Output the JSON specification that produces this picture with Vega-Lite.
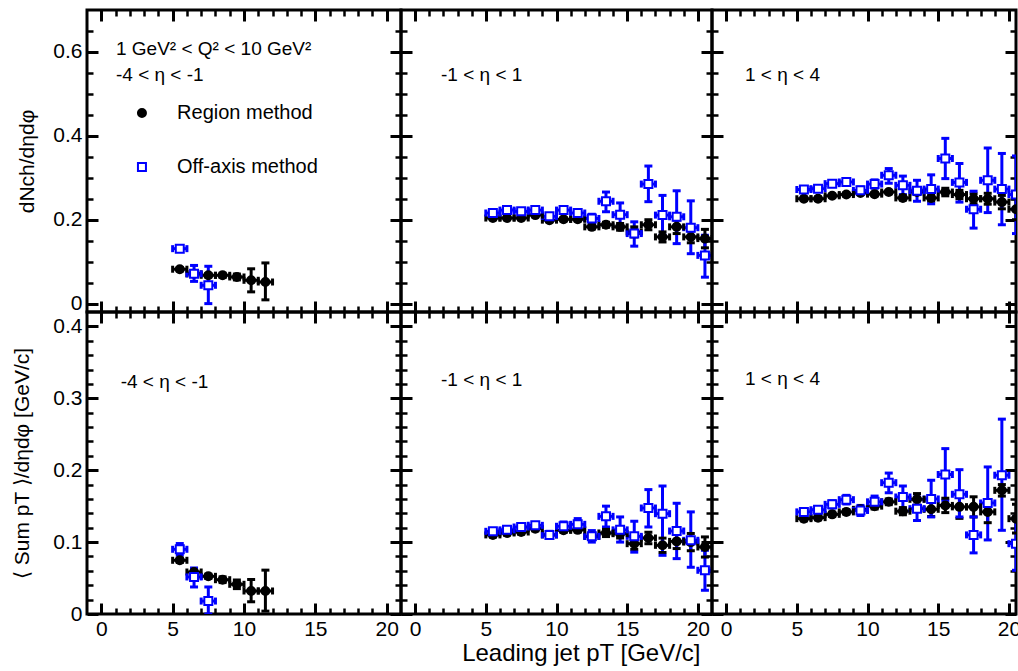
{
"$schema": "https://vega.github.io/schema/vega-lite/v6.json",
"padding": {"left": 10, "top": 7, "right": 0, "bottom": 0},
"background": "white",
"config": {
  "view": {"stroke": "black", "strokeWidth": 3},
  "font": "Liberation Sans",
  "axis": {"domain": false, "grid": false, "tickColor": "black", "labelColor": "black", "titleColor": "black", "labelFont": "Liberation Sans", "titleFont": "Liberation Sans", "labelFontSize": 21, "titleFontWeight": "normal", "labelFlush": false, "labelOverlap": false},
  "text": {"font": "Liberation Sans", "fontSize": 19, "color": "black", "align": "left", "baseline": "middle"}
},
"concat": [
{
"width": 314, "height": 302,
"data": {"name": "tl"},
"resolve": {"axis": {"x": "independent", "y": "independent"}},
"layer": [
 {"mark": {"type": "rule", "strokeWidth": 3, "clip": true},
  "encoding": {
   "x": {"field": "xl", "type": "quantitative", "scale": {"domain": [-1, 21], "nice": false, "zero": false}, "axis": {"orient": "bottom", "values": [0,5,10,15,20], "tickSize": -11, "tickWidth": 3, "labels": false, "title": null}},
   "x2": {"field": "xh"},
   "y": {"field": "y", "type": "quantitative", "scale": {"domain": [-0.02, 0.7], "nice": false, "zero": false}, "axis": {"orient": "left", "values": [0,0.2,0.4,0.6], "tickSize": -11, "tickWidth": 3, "labels": false, "title": null}},
   "stroke": {"field": "m", "type": "nominal", "scale": {"domain": ["Region method", "Off-axis method"], "range": ["#000000", "#0000ff"]}, "legend": null}}},
 {"mark": {"type": "rule", "strokeWidth": 3, "clip": true},
  "encoding": {
   "x": {"field": "x", "type": "quantitative", "axis": {"orient": "top", "values": [0,5,10,15,20], "tickSize": -11, "tickWidth": 3, "labels": false, "title": null}},
   "y": {"field": "yl", "type": "quantitative", "axis": {"orient": "right", "values": [0,0.2,0.4,0.6], "tickSize": -11, "tickWidth": 3, "labels": false, "title": null}},
   "y2": {"field": "yh"},
   "stroke": {"field": "m", "type": "nominal", "legend": null}}},
 {"mark": {"type": "tick", "orient": "horizontal", "size": 8, "thickness": 3, "opacity": 1, "clip": true},
  "encoding": {
   "x": {"field": "x", "type": "quantitative", "axis": {"orient": "bottom", "values": [1,2,3,4,6,7,8,9,11,12,13,14,16,17,18,19], "tickSize": -6, "tickWidth": 2.5, "labels": false, "title": null}},
   "y": {"field": "yl", "type": "quantitative", "axis": {"orient": "left", "values": [0.05,0.1,0.15,0.25,0.3,0.35,0.45,0.5,0.55,0.65], "tickSize": -6, "tickWidth": 2.5, "labels": false, "title": null}},
   "color": {"field": "m", "type": "nominal", "scale": {"domain": ["Region method", "Off-axis method"], "range": ["#000000", "#0000ff"]}, "legend": null}}},
 {"mark": {"type": "tick", "orient": "horizontal", "size": 8, "thickness": 3, "opacity": 1, "clip": true},
  "encoding": {
   "x": {"field": "x", "type": "quantitative", "axis": {"orient": "top", "values": [1,2,3,4,6,7,8,9,11,12,13,14,16,17,18,19], "tickSize": -6, "tickWidth": 2.5, "labels": false, "title": null}},
   "y": {"field": "yh", "type": "quantitative", "axis": {"orient": "right", "values": [0.05,0.1,0.15,0.25,0.3,0.35,0.45,0.5,0.55,0.65], "tickSize": -6, "tickWidth": 2.5, "labels": false, "title": null}},
   "color": {"field": "m", "type": "nominal", "legend": null}}},
 {"mark": {"type": "tick", "orient": "vertical", "size": 7, "thickness": 3, "opacity": 1, "clip": true},
  "encoding": {
   "x": {"field": "xl", "type": "quantitative", "axis": null},
   "y": {"field": "y", "type": "quantitative", "axis": {"orient": "left", "values": [0,0.2,0.4,0.6], "format": "~g", "ticks": false, "labelPadding": 5, "title": "dNch/dηdφ", "titleX": -60, "titleY": 151, "titleAngle": 270, "titleAlign": "center", "titleBaseline": "middle", "titleFontSize": 21}},
   "color": {"field": "m", "type": "nominal", "legend": null}}},
 {"mark": {"type": "tick", "orient": "vertical", "size": 7, "thickness": 3, "opacity": 1, "clip": true},
  "encoding": {
   "x": {"field": "xh", "type": "quantitative", "axis": null},
   "y": {"field": "y", "type": "quantitative", "axis": null},
   "color": {"field": "m", "type": "nominal", "legend": null}}},
 {"mark": {"type": "point", "size": 64, "strokeWidth": 2, "opacity": 1, "clip": true},
  "encoding": {
   "x": {"field": "x", "type": "quantitative", "axis": null},
   "y": {"field": "y", "type": "quantitative", "axis": null},
   "stroke": {"field": "m", "type": "nominal", "legend": null},
   "fill": {"field": "m", "type": "nominal", "scale": {"domain": ["Region method", "Off-axis method"], "range": ["#000000", "#ffffff"]}, "legend": null},
   "shape": {"field": "m", "type": "nominal", "scale": {"domain": ["Region method", "Off-axis method"], "range": ["circle", "square"]}, "legend": null}}},
 {"data": {"values": [{"m": "Region method"}]}, "mark": {"type": "point", "size": 64, "strokeWidth": 2, "opacity": 1},
  "encoding": {"x": {"datum": 2.85, "axis": null}, "y": {"datum": 0.4544, "axis": null},
   "stroke": {"field": "m", "type": "nominal", "legend": null}, "fill": {"field": "m", "type": "nominal", "legend": null}, "shape": {"field": "m", "type": "nominal", "legend": null}}},
 {"data": {"values": [{"m": "Off-axis method"}]}, "mark": {"type": "point", "size": 64, "strokeWidth": 2, "opacity": 1},
  "encoding": {"x": {"datum": 2.85, "axis": null}, "y": {"datum": 0.3257, "axis": null},
   "stroke": {"field": "m", "type": "nominal", "legend": null}, "fill": {"field": "m", "type": "nominal", "legend": null}, "shape": {"field": "m", "type": "nominal", "legend": null}}},
 {"data": {"values": [{"m": "Region method"}]}, "mark": {"type": "text", "fontSize": 20},
  "encoding": {"text": {"field": "m"}, "x": {"datum": 5.31, "axis": null}, "y": {"datum": 0.4544, "axis": null}}},
 {"data": {"values": [{"m": "Off-axis method"}]}, "mark": {"type": "text", "fontSize": 20},
  "encoding": {"text": {"field": "m"}, "x": {"datum": 5.31, "axis": null}, "y": {"datum": 0.3257, "axis": null}}},
 {"data": {"values": [{"t": "1 GeV² < Q² < 10 GeV²"}]}, "mark": {"type": "text"},
  "encoding": {"text": {"field": "t"}, "x": {"datum": 1.03, "axis": null}, "y": {"datum": 0.608, "axis": null}}},
 {"data": {"values": [{"t": "-4 < η < -1"}]}, "mark": {"type": "text"},
  "encoding": {"text": {"field": "t"}, "x": {"datum": 1.03, "axis": null}, "y": {"datum": 0.545, "axis": null}}}
]},
{
"width": 311, "height": 302,
"data": {"name": "tm"},
"resolve": {"axis": {"x": "independent", "y": "independent"}},
"layer": [
 {"mark": {"type": "rule", "strokeWidth": 3, "clip": true},
  "encoding": {
   "x": {"field": "xl", "type": "quantitative", "scale": {"domain": [-1, 21], "nice": false, "zero": false}, "axis": {"orient": "bottom", "values": [0,5,10,15,20], "tickSize": -11, "tickWidth": 3, "labels": false, "title": null}},
   "x2": {"field": "xh"},
   "y": {"field": "y", "type": "quantitative", "scale": {"domain": [-0.02, 0.7], "nice": false, "zero": false}, "axis": {"orient": "left", "values": [0,0.2,0.4,0.6], "tickSize": -11, "tickWidth": 3, "labels": false, "title": null}},
   "stroke": {"field": "m", "type": "nominal", "legend": null}}},
 {"mark": {"type": "rule", "strokeWidth": 3, "clip": true},
  "encoding": {
   "x": {"field": "x", "type": "quantitative", "axis": {"orient": "top", "values": [0,5,10,15,20], "tickSize": -11, "tickWidth": 3, "labels": false, "title": null}},
   "y": {"field": "yl", "type": "quantitative", "axis": {"orient": "right", "values": [0,0.2,0.4,0.6], "tickSize": -11, "tickWidth": 3, "labels": false, "title": null}},
   "y2": {"field": "yh"},
   "stroke": {"field": "m", "type": "nominal", "legend": null}}},
 {"mark": {"type": "tick", "orient": "horizontal", "size": 8, "thickness": 3, "opacity": 1, "clip": true},
  "encoding": {
   "x": {"field": "x", "type": "quantitative", "axis": {"orient": "bottom", "values": [1,2,3,4,6,7,8,9,11,12,13,14,16,17,18,19], "tickSize": -6, "tickWidth": 2.5, "labels": false, "title": null}},
   "y": {"field": "yl", "type": "quantitative", "axis": {"orient": "left", "values": [0.05,0.1,0.15,0.25,0.3,0.35,0.45,0.5,0.55,0.65], "tickSize": -6, "tickWidth": 2.5, "labels": false, "title": null}},
   "color": {"field": "m", "type": "nominal", "legend": null}}},
 {"mark": {"type": "tick", "orient": "horizontal", "size": 8, "thickness": 3, "opacity": 1, "clip": true},
  "encoding": {
   "x": {"field": "x", "type": "quantitative", "axis": {"orient": "top", "values": [1,2,3,4,6,7,8,9,11,12,13,14,16,17,18,19], "tickSize": -6, "tickWidth": 2.5, "labels": false, "title": null}},
   "y": {"field": "yh", "type": "quantitative", "axis": {"orient": "right", "values": [0.05,0.1,0.15,0.25,0.3,0.35,0.45,0.5,0.55,0.65], "tickSize": -6, "tickWidth": 2.5, "labels": false, "title": null}},
   "color": {"field": "m", "type": "nominal", "legend": null}}},
 {"mark": {"type": "tick", "orient": "vertical", "size": 7, "thickness": 3, "opacity": 1, "clip": true},
  "encoding": {
   "x": {"field": "xl", "type": "quantitative", "axis": null},
   "y": {"field": "y", "type": "quantitative", "axis": null},
   "color": {"field": "m", "type": "nominal", "legend": null}}},
 {"mark": {"type": "tick", "orient": "vertical", "size": 7, "thickness": 3, "opacity": 1, "clip": true},
  "encoding": {
   "x": {"field": "xh", "type": "quantitative", "axis": null},
   "y": {"field": "y", "type": "quantitative", "axis": null},
   "color": {"field": "m", "type": "nominal", "legend": null}}},
 {"mark": {"type": "point", "size": 64, "strokeWidth": 2, "opacity": 1, "clip": true},
  "encoding": {
   "x": {"field": "x", "type": "quantitative", "axis": null},
   "y": {"field": "y", "type": "quantitative", "axis": null},
   "stroke": {"field": "m", "type": "nominal", "legend": null},
   "fill": {"field": "m", "type": "nominal", "legend": null},
   "shape": {"field": "m", "type": "nominal", "legend": null}}},
 {"data": {"values": [{"t": "-1 < η < 1"}]}, "mark": {"type": "text"},
  "encoding": {"text": {"field": "t"}, "x": {"datum": 1.83, "axis": null}, "y": {"datum": 0.545, "axis": null}}}
]},
{
"width": 304, "height": 302,
"data": {"name": "tr"},
"resolve": {"axis": {"x": "independent", "y": "independent"}},
"layer": [
 {"mark": {"type": "rule", "strokeWidth": 3, "clip": true},
  "encoding": {
   "x": {"field": "xl", "type": "quantitative", "scale": {"domain": [-1, 20.5], "nice": false, "zero": false}, "axis": {"orient": "bottom", "values": [0,5,10,15,20], "tickSize": -11, "tickWidth": 3, "labels": false, "title": null}},
   "x2": {"field": "xh"},
   "y": {"field": "y", "type": "quantitative", "scale": {"domain": [-0.02, 0.7], "nice": false, "zero": false}, "axis": {"orient": "left", "values": [0,0.2,0.4,0.6], "tickSize": -11, "tickWidth": 3, "labels": false, "title": null}},
   "stroke": {"field": "m", "type": "nominal", "legend": null}}},
 {"mark": {"type": "rule", "strokeWidth": 3, "clip": true},
  "encoding": {
   "x": {"field": "x", "type": "quantitative", "axis": {"orient": "top", "values": [0,5,10,15,20], "tickSize": -11, "tickWidth": 3, "labels": false, "title": null}},
   "y": {"field": "yl", "type": "quantitative", "axis": {"orient": "right", "values": [0,0.2,0.4,0.6], "tickSize": -11, "tickWidth": 3, "labels": false, "title": null}},
   "y2": {"field": "yh"},
   "stroke": {"field": "m", "type": "nominal", "legend": null}}},
 {"mark": {"type": "tick", "orient": "horizontal", "size": 8, "thickness": 3, "opacity": 1, "clip": true},
  "encoding": {
   "x": {"field": "x", "type": "quantitative", "axis": {"orient": "bottom", "values": [1,2,3,4,6,7,8,9,11,12,13,14,16,17,18,19], "tickSize": -6, "tickWidth": 2.5, "labels": false, "title": null}},
   "y": {"field": "yl", "type": "quantitative", "axis": {"orient": "left", "values": [0.05,0.1,0.15,0.25,0.3,0.35,0.45,0.5,0.55,0.65], "tickSize": -6, "tickWidth": 2.5, "labels": false, "title": null}},
   "color": {"field": "m", "type": "nominal", "legend": null}}},
 {"mark": {"type": "tick", "orient": "horizontal", "size": 8, "thickness": 3, "opacity": 1, "clip": true},
  "encoding": {
   "x": {"field": "x", "type": "quantitative", "axis": {"orient": "top", "values": [1,2,3,4,6,7,8,9,11,12,13,14,16,17,18,19], "tickSize": -6, "tickWidth": 2.5, "labels": false, "title": null}},
   "y": {"field": "yh", "type": "quantitative", "axis": {"orient": "right", "values": [0.05,0.1,0.15,0.25,0.3,0.35,0.45,0.5,0.55,0.65], "tickSize": -6, "tickWidth": 2.5, "labels": false, "title": null}},
   "color": {"field": "m", "type": "nominal", "legend": null}}},
 {"mark": {"type": "tick", "orient": "vertical", "size": 7, "thickness": 3, "opacity": 1, "clip": true},
  "encoding": {
   "x": {"field": "xl", "type": "quantitative", "axis": null},
   "y": {"field": "y", "type": "quantitative", "axis": null},
   "color": {"field": "m", "type": "nominal", "legend": null}}},
 {"mark": {"type": "tick", "orient": "vertical", "size": 7, "thickness": 3, "opacity": 1, "clip": true},
  "encoding": {
   "x": {"field": "xh", "type": "quantitative", "axis": null},
   "y": {"field": "y", "type": "quantitative", "axis": null},
   "color": {"field": "m", "type": "nominal", "legend": null}}},
 {"mark": {"type": "point", "size": 64, "strokeWidth": 2, "opacity": 1, "clip": true},
  "encoding": {
   "x": {"field": "x", "type": "quantitative", "axis": null},
   "y": {"field": "y", "type": "quantitative", "axis": null},
   "stroke": {"field": "m", "type": "nominal", "legend": null},
   "fill": {"field": "m", "type": "nominal", "legend": null},
   "shape": {"field": "m", "type": "nominal", "legend": null}}},
 {"data": {"values": [{"t": "1 < η < 4"}]}, "mark": {"type": "text"},
  "encoding": {"text": {"field": "t"}, "x": {"datum": 1.33, "axis": null}, "y": {"datum": 0.546, "axis": null}}}
]},
{
"width": 314, "height": 302,
"data": {"name": "bl"},
"resolve": {"axis": {"x": "independent", "y": "independent"}},
"layer": [
 {"mark": {"type": "rule", "strokeWidth": 3, "clip": true},
  "encoding": {
   "x": {"field": "xl", "type": "quantitative", "scale": {"domain": [-1, 21], "nice": false, "zero": false}, "axis": {"orient": "bottom", "values": [0,5,10,15,20], "tickSize": -11, "tickWidth": 3, "labels": false, "title": null}},
   "x2": {"field": "xh"},
   "y": {"field": "y", "type": "quantitative", "scale": {"domain": [0, 0.42], "nice": false, "zero": false}, "axis": {"orient": "left", "values": [0,0.1,0.2,0.3,0.4], "tickSize": -11, "tickWidth": 3, "labels": false, "title": null}},
   "stroke": {"field": "m", "type": "nominal", "legend": null}}},
 {"mark": {"type": "rule", "strokeWidth": 3, "clip": true},
  "encoding": {
   "x": {"field": "x", "type": "quantitative", "axis": {"orient": "top", "values": [0,5,10,15,20], "tickSize": -11, "tickWidth": 3, "labels": false, "title": null}},
   "y": {"field": "yl", "type": "quantitative", "axis": {"orient": "right", "values": [0,0.1,0.2,0.3,0.4], "tickSize": -11, "tickWidth": 3, "labels": false, "title": null}},
   "y2": {"field": "yh"},
   "stroke": {"field": "m", "type": "nominal", "legend": null}}},
 {"mark": {"type": "tick", "orient": "horizontal", "size": 8, "thickness": 3, "opacity": 1, "clip": true},
  "encoding": {
   "x": {"field": "x", "type": "quantitative", "axis": {"orient": "bottom", "values": [1,2,3,4,6,7,8,9,11,12,13,14,16,17,18,19], "tickSize": -6, "tickWidth": 2.5, "labels": false, "title": null}},
   "y": {"field": "yl", "type": "quantitative", "axis": {"orient": "left", "values": [0.02,0.04,0.06,0.08,0.12,0.14,0.16,0.18,0.22,0.24,0.26,0.28,0.32,0.34,0.36,0.38], "tickSize": -6, "tickWidth": 2.5, "labels": false, "title": null}},
   "color": {"field": "m", "type": "nominal", "legend": null}}},
 {"mark": {"type": "tick", "orient": "horizontal", "size": 8, "thickness": 3, "opacity": 1, "clip": true},
  "encoding": {
   "x": {"field": "x", "type": "quantitative", "axis": {"orient": "top", "values": [1,2,3,4,6,7,8,9,11,12,13,14,16,17,18,19], "tickSize": -6, "tickWidth": 2.5, "labels": false, "title": null}},
   "y": {"field": "yh", "type": "quantitative", "axis": {"orient": "right", "values": [0.02,0.04,0.06,0.08,0.12,0.14,0.16,0.18,0.22,0.24,0.26,0.28,0.32,0.34,0.36,0.38], "tickSize": -6, "tickWidth": 2.5, "labels": false, "title": null}},
   "color": {"field": "m", "type": "nominal", "legend": null}}},
 {"mark": {"type": "tick", "orient": "vertical", "size": 7, "thickness": 3, "opacity": 1, "clip": true},
  "encoding": {
   "x": {"field": "xl", "type": "quantitative", "axis": {"orient": "bottom", "values": [0,5,10,15,20], "ticks": false, "labelPadding": 4, "title": null}},
   "y": {"field": "y", "type": "quantitative", "axis": {"orient": "left", "values": [0,0.1,0.2,0.3,0.4], "format": "~g", "ticks": false, "labelPadding": 5, "title": "⟨ Sum pT ⟩/dηdφ [GeV/c]", "titleX": -64.5, "titleY": 151, "titleAngle": 270, "titleAlign": "center", "titleBaseline": "middle", "titleFontSize": 21}},
   "color": {"field": "m", "type": "nominal", "legend": null}}},
 {"mark": {"type": "tick", "orient": "vertical", "size": 7, "thickness": 3, "opacity": 1, "clip": true},
  "encoding": {
   "x": {"field": "xh", "type": "quantitative", "axis": null},
   "y": {"field": "y", "type": "quantitative", "axis": null},
   "color": {"field": "m", "type": "nominal", "legend": null}}},
 {"mark": {"type": "point", "size": 64, "strokeWidth": 2, "opacity": 1, "clip": true},
  "encoding": {
   "x": {"field": "x", "type": "quantitative", "axis": null},
   "y": {"field": "y", "type": "quantitative", "axis": null},
   "stroke": {"field": "m", "type": "nominal", "legend": null},
   "fill": {"field": "m", "type": "nominal", "legend": null},
   "shape": {"field": "m", "type": "nominal", "legend": null}}},
 {"data": {"values": [{"t": "-4 < η < -1"}]}, "mark": {"type": "text"},
  "encoding": {"text": {"field": "t"}, "x": {"datum": 1.36, "axis": null}, "y": {"datum": 0.3227, "axis": null}}}
]},
{
"width": 311, "height": 302,
"data": {"name": "bm"},
"resolve": {"axis": {"x": "independent", "y": "independent"}},
"layer": [
 {"mark": {"type": "rule", "strokeWidth": 3, "clip": true},
  "encoding": {
   "x": {"field": "xl", "type": "quantitative", "scale": {"domain": [-1, 21], "nice": false, "zero": false}, "axis": {"orient": "bottom", "values": [0,5,10,15,20], "tickSize": -11, "tickWidth": 3, "labels": false, "title": null}},
   "x2": {"field": "xh"},
   "y": {"field": "y", "type": "quantitative", "scale": {"domain": [0, 0.42], "nice": false, "zero": false}, "axis": {"orient": "left", "values": [0,0.1,0.2,0.3,0.4], "tickSize": -11, "tickWidth": 3, "labels": false, "title": null}},
   "stroke": {"field": "m", "type": "nominal", "legend": null}}},
 {"mark": {"type": "rule", "strokeWidth": 3, "clip": true},
  "encoding": {
   "x": {"field": "x", "type": "quantitative", "axis": {"orient": "top", "values": [0,5,10,15,20], "tickSize": -11, "tickWidth": 3, "labels": false, "title": null}},
   "y": {"field": "yl", "type": "quantitative", "axis": {"orient": "right", "values": [0,0.1,0.2,0.3,0.4], "tickSize": -11, "tickWidth": 3, "labels": false, "title": null}},
   "y2": {"field": "yh"},
   "stroke": {"field": "m", "type": "nominal", "legend": null}}},
 {"mark": {"type": "tick", "orient": "horizontal", "size": 8, "thickness": 3, "opacity": 1, "clip": true},
  "encoding": {
   "x": {"field": "x", "type": "quantitative", "axis": {"orient": "bottom", "values": [1,2,3,4,6,7,8,9,11,12,13,14,16,17,18,19], "tickSize": -6, "tickWidth": 2.5, "labels": false, "title": null}},
   "y": {"field": "yl", "type": "quantitative", "axis": {"orient": "left", "values": [0.02,0.04,0.06,0.08,0.12,0.14,0.16,0.18,0.22,0.24,0.26,0.28,0.32,0.34,0.36,0.38], "tickSize": -6, "tickWidth": 2.5, "labels": false, "title": null}},
   "color": {"field": "m", "type": "nominal", "legend": null}}},
 {"mark": {"type": "tick", "orient": "horizontal", "size": 8, "thickness": 3, "opacity": 1, "clip": true},
  "encoding": {
   "x": {"field": "x", "type": "quantitative", "axis": {"orient": "top", "values": [1,2,3,4,6,7,8,9,11,12,13,14,16,17,18,19], "tickSize": -6, "tickWidth": 2.5, "labels": false, "title": null}},
   "y": {"field": "yh", "type": "quantitative", "axis": {"orient": "right", "values": [0.02,0.04,0.06,0.08,0.12,0.14,0.16,0.18,0.22,0.24,0.26,0.28,0.32,0.34,0.36,0.38], "tickSize": -6, "tickWidth": 2.5, "labels": false, "title": null}},
   "color": {"field": "m", "type": "nominal", "legend": null}}},
 {"mark": {"type": "tick", "orient": "vertical", "size": 7, "thickness": 3, "opacity": 1, "clip": true},
  "encoding": {
   "x": {"field": "xl", "type": "quantitative", "axis": {"orient": "bottom", "values": [0,5,10,15,20], "ticks": false, "labelPadding": 4, "title": "Leading jet pT [GeV/c]", "titleFontSize": 24, "titleX": 299, "titleY": 46, "titleAlign": "right", "titleBaseline": "alphabetic"}},
   "y": {"field": "y", "type": "quantitative", "axis": null},
   "color": {"field": "m", "type": "nominal", "legend": null}}},
 {"mark": {"type": "tick", "orient": "vertical", "size": 7, "thickness": 3, "opacity": 1, "clip": true},
  "encoding": {
   "x": {"field": "xh", "type": "quantitative", "axis": null},
   "y": {"field": "y", "type": "quantitative", "axis": null},
   "color": {"field": "m", "type": "nominal", "legend": null}}},
 {"mark": {"type": "point", "size": 64, "strokeWidth": 2, "opacity": 1, "clip": true},
  "encoding": {
   "x": {"field": "x", "type": "quantitative", "axis": null},
   "y": {"field": "y", "type": "quantitative", "axis": null},
   "stroke": {"field": "m", "type": "nominal", "legend": null},
   "fill": {"field": "m", "type": "nominal", "legend": null},
   "shape": {"field": "m", "type": "nominal", "legend": null}}},
 {"data": {"values": [{"t": "-1 < η < 1"}]}, "mark": {"type": "text"},
  "encoding": {"text": {"field": "t"}, "x": {"datum": 1.83, "axis": null}, "y": {"datum": 0.326, "axis": null}}}
]},
{
"width": 304, "height": 302,
"data": {"name": "br"},
"resolve": {"axis": {"x": "independent", "y": "independent"}},
"layer": [
 {"mark": {"type": "rule", "strokeWidth": 3, "clip": true},
  "encoding": {
   "x": {"field": "xl", "type": "quantitative", "scale": {"domain": [-1, 20.5], "nice": false, "zero": false}, "axis": {"orient": "bottom", "values": [0,5,10,15,20], "tickSize": -11, "tickWidth": 3, "labels": false, "title": null}},
   "x2": {"field": "xh"},
   "y": {"field": "y", "type": "quantitative", "scale": {"domain": [0, 0.42], "nice": false, "zero": false}, "axis": {"orient": "left", "values": [0,0.1,0.2,0.3,0.4], "tickSize": -11, "tickWidth": 3, "labels": false, "title": null}},
   "stroke": {"field": "m", "type": "nominal", "legend": null}}},
 {"mark": {"type": "rule", "strokeWidth": 3, "clip": true},
  "encoding": {
   "x": {"field": "x", "type": "quantitative", "axis": {"orient": "top", "values": [0,5,10,15,20], "tickSize": -11, "tickWidth": 3, "labels": false, "title": null}},
   "y": {"field": "yl", "type": "quantitative", "axis": {"orient": "right", "values": [0,0.1,0.2,0.3,0.4], "tickSize": -11, "tickWidth": 3, "labels": false, "title": null}},
   "y2": {"field": "yh"},
   "stroke": {"field": "m", "type": "nominal", "legend": null}}},
 {"mark": {"type": "tick", "orient": "horizontal", "size": 8, "thickness": 3, "opacity": 1, "clip": true},
  "encoding": {
   "x": {"field": "x", "type": "quantitative", "axis": {"orient": "bottom", "values": [1,2,3,4,6,7,8,9,11,12,13,14,16,17,18,19], "tickSize": -6, "tickWidth": 2.5, "labels": false, "title": null}},
   "y": {"field": "yl", "type": "quantitative", "axis": {"orient": "left", "values": [0.02,0.04,0.06,0.08,0.12,0.14,0.16,0.18,0.22,0.24,0.26,0.28,0.32,0.34,0.36,0.38], "tickSize": -6, "tickWidth": 2.5, "labels": false, "title": null}},
   "color": {"field": "m", "type": "nominal", "legend": null}}},
 {"mark": {"type": "tick", "orient": "horizontal", "size": 8, "thickness": 3, "opacity": 1, "clip": true},
  "encoding": {
   "x": {"field": "x", "type": "quantitative", "axis": {"orient": "top", "values": [1,2,3,4,6,7,8,9,11,12,13,14,16,17,18,19], "tickSize": -6, "tickWidth": 2.5, "labels": false, "title": null}},
   "y": {"field": "yh", "type": "quantitative", "axis": {"orient": "right", "values": [0.02,0.04,0.06,0.08,0.12,0.14,0.16,0.18,0.22,0.24,0.26,0.28,0.32,0.34,0.36,0.38], "tickSize": -6, "tickWidth": 2.5, "labels": false, "title": null}},
   "color": {"field": "m", "type": "nominal", "legend": null}}},
 {"mark": {"type": "tick", "orient": "vertical", "size": 7, "thickness": 3, "opacity": 1, "clip": true},
  "encoding": {
   "x": {"field": "xl", "type": "quantitative", "axis": {"orient": "bottom", "values": [0,5,10,15,20], "ticks": false, "labelPadding": 4, "title": null}},
   "y": {"field": "y", "type": "quantitative", "axis": null},
   "color": {"field": "m", "type": "nominal", "legend": null}}},
 {"mark": {"type": "tick", "orient": "vertical", "size": 7, "thickness": 3, "opacity": 1, "clip": true},
  "encoding": {
   "x": {"field": "xh", "type": "quantitative", "axis": null},
   "y": {"field": "y", "type": "quantitative", "axis": null},
   "color": {"field": "m", "type": "nominal", "legend": null}}},
 {"mark": {"type": "point", "size": 64, "strokeWidth": 2, "opacity": 1, "clip": true},
  "encoding": {
   "x": {"field": "x", "type": "quantitative", "axis": null},
   "y": {"field": "y", "type": "quantitative", "axis": null},
   "stroke": {"field": "m", "type": "nominal", "legend": null},
   "fill": {"field": "m", "type": "nominal", "legend": null},
   "shape": {"field": "m", "type": "nominal", "legend": null}}},
 {"data": {"values": [{"t": "1 < η < 4"}]}, "mark": {"type": "text"},
  "encoding": {"text": {"field": "t"}, "x": {"datum": 1.33, "axis": null}, "y": {"datum": 0.327, "axis": null}}}
]}
],
"columns": 3,
"spacing": 0,
"bounds": "flush",
"align": "each",
"datasets": {
"tl": [
{"m":"Region method","x":5.5,"xl":5,"xh":6,"y":0.082,"yl":0.078,"yh":0.086},
{"m":"Region method","x":6.5,"xl":6,"xh":7,"y":0.071,"yl":0.067,"yh":0.075},
{"m":"Region method","x":7.5,"xl":7,"xh":8,"y":0.0675,"yl":0.0635,"yh":0.0715},
{"m":"Region method","x":8.5,"xl":8,"xh":9,"y":0.0675,"yl":0.0625,"yh":0.0725},
{"m":"Region method","x":9.5,"xl":9,"xh":10,"y":0.0635,"yl":0.0565,"yh":0.0705},
{"m":"Region method","x":10.5,"xl":10,"xh":11,"y":0.0556,"yl":0.028,"yh":0.083},
{"m":"Region method","x":11.5,"xl":11,"xh":12,"y":0.0515,"yl":0.009,"yh":0.097},
{"m":"Off-axis method","x":5.5,"xl":5,"xh":6,"y":0.131,"yl":0.125,"yh":0.137},
{"m":"Off-axis method","x":6.5,"xl":6,"xh":7,"y":0.071,"yl":0.053,"yh":0.091},
{"m":"Off-axis method","x":7.5,"xl":7,"xh":8,"y":0.0437,"yl":0.0,"yh":0.089}
],
"tm": [
{"m":"Region method","x":5.5,"xl":5,"xh":6,"y":0.204,"yl":0.2,"yh":0.208},
{"m":"Region method","x":6.5,"xl":6,"xh":7,"y":0.204,"yl":0.2,"yh":0.208},
{"m":"Region method","x":7.5,"xl":7,"xh":8,"y":0.204,"yl":0.2,"yh":0.208},
{"m":"Region method","x":8.5,"xl":8,"xh":9,"y":0.211,"yl":0.207,"yh":0.215},
{"m":"Region method","x":9.5,"xl":9,"xh":10,"y":0.199,"yl":0.195,"yh":0.203},
{"m":"Region method","x":10.5,"xl":10,"xh":11,"y":0.201,"yl":0.197,"yh":0.205},
{"m":"Region method","x":11.5,"xl":11,"xh":12,"y":0.201,"yl":0.197,"yh":0.205},
{"m":"Region method","x":12.5,"xl":12,"xh":13,"y":0.183,"yl":0.178,"yh":0.188},
{"m":"Region method","x":13.5,"xl":13,"xh":14,"y":0.188,"yl":0.182,"yh":0.194},
{"m":"Region method","x":14.5,"xl":14,"xh":15,"y":0.183,"yl":0.175,"yh":0.191},
{"m":"Region method","x":15.5,"xl":15,"xh":16,"y":0.171,"yl":0.159,"yh":0.183},
{"m":"Region method","x":16.5,"xl":16,"xh":17,"y":0.188,"yl":0.176,"yh":0.2},
{"m":"Region method","x":17.5,"xl":17,"xh":18,"y":0.159,"yl":0.147,"yh":0.171},
{"m":"Region method","x":18.5,"xl":18,"xh":19,"y":0.183,"yl":0.167,"yh":0.199},
{"m":"Region method","x":19.5,"xl":19,"xh":20,"y":0.159,"yl":0.145,"yh":0.173},
{"m":"Region method","x":20.5,"xl":20,"xh":21,"y":0.155,"yl":0.133,"yh":0.177},
{"m":"Off-axis method","x":5.5,"xl":5,"xh":6,"y":0.216,"yl":0.212,"yh":0.22},
{"m":"Off-axis method","x":6.5,"xl":6,"xh":7,"y":0.223,"yl":0.219,"yh":0.227},
{"m":"Off-axis method","x":7.5,"xl":7,"xh":8,"y":0.22,"yl":0.215,"yh":0.225},
{"m":"Off-axis method","x":8.5,"xl":8,"xh":9,"y":0.223,"yl":0.218,"yh":0.228},
{"m":"Off-axis method","x":9.5,"xl":9,"xh":10,"y":0.208,"yl":0.202,"yh":0.214},
{"m":"Off-axis method","x":10.5,"xl":10,"xh":11,"y":0.223,"yl":0.216,"yh":0.23},
{"m":"Off-axis method","x":11.5,"xl":11,"xh":12,"y":0.216,"yl":0.208,"yh":0.224},
{"m":"Off-axis method","x":12.5,"xl":12,"xh":13,"y":0.203,"yl":0.193,"yh":0.213},
{"m":"Off-axis method","x":13.5,"xl":13,"xh":14,"y":0.244,"yl":0.219,"yh":0.266},
{"m":"Off-axis method","x":14.5,"xl":14,"xh":15,"y":0.212,"yl":0.183,"yh":0.24},
{"m":"Off-axis method","x":15.5,"xl":15,"xh":16,"y":0.167,"yl":0.137,"yh":0.195},
{"m":"Off-axis method","x":16.5,"xl":16,"xh":17,"y":0.285,"yl":0.243,"yh":0.328},
{"m":"Off-axis method","x":17.5,"xl":17,"xh":18,"y":0.211,"yl":0.163,"yh":0.258},
{"m":"Off-axis method","x":18.5,"xl":18,"xh":19,"y":0.207,"yl":0.143,"yh":0.269},
{"m":"Off-axis method","x":19.5,"xl":19,"xh":20,"y":0.181,"yl":0.119,"yh":0.245},
{"m":"Off-axis method","x":20.5,"xl":20,"xh":21,"y":0.115,"yl":0.063,"yh":0.163}
],
"tr": [
{"m":"Region method","x":5.5,"xl":5,"xh":6,"y":0.25,"yl":0.246,"yh":0.254},
{"m":"Region method","x":6.5,"xl":6,"xh":7,"y":0.25,"yl":0.246,"yh":0.254},
{"m":"Region method","x":7.5,"xl":7,"xh":8,"y":0.257,"yl":0.253,"yh":0.261},
{"m":"Region method","x":8.5,"xl":8,"xh":9,"y":0.26,"yl":0.256,"yh":0.264},
{"m":"Region method","x":9.5,"xl":9,"xh":10,"y":0.264,"yl":0.26,"yh":0.268},
{"m":"Region method","x":10.5,"xl":10,"xh":11,"y":0.261,"yl":0.257,"yh":0.265},
{"m":"Region method","x":11.5,"xl":11,"xh":12,"y":0.266,"yl":0.262,"yh":0.27},
{"m":"Region method","x":12.5,"xl":12,"xh":13,"y":0.252,"yl":0.247,"yh":0.257},
{"m":"Region method","x":13.5,"xl":13,"xh":14,"y":0.266,"yl":0.26,"yh":0.272},
{"m":"Region method","x":14.5,"xl":14,"xh":15,"y":0.252,"yl":0.244,"yh":0.26},
{"m":"Region method","x":15.5,"xl":15,"xh":16,"y":0.266,"yl":0.257,"yh":0.275},
{"m":"Region method","x":16.5,"xl":16,"xh":17,"y":0.26,"yl":0.25,"yh":0.27},
{"m":"Region method","x":17.5,"xl":17,"xh":18,"y":0.25,"yl":0.238,"yh":0.262},
{"m":"Region method","x":18.5,"xl":18,"xh":19,"y":0.25,"yl":0.237,"yh":0.263},
{"m":"Region method","x":19.5,"xl":19,"xh":20,"y":0.242,"yl":0.226,"yh":0.258},
{"m":"Region method","x":20.5,"xl":20,"xh":21,"y":0.225,"yl":0.2,"yh":0.25},
{"m":"Off-axis method","x":5.5,"xl":5,"xh":6,"y":0.272,"yl":0.267,"yh":0.277},
{"m":"Off-axis method","x":6.5,"xl":6,"xh":7,"y":0.274,"yl":0.269,"yh":0.279},
{"m":"Off-axis method","x":7.5,"xl":7,"xh":8,"y":0.286,"yl":0.28,"yh":0.292},
{"m":"Off-axis method","x":8.5,"xl":8,"xh":9,"y":0.29,"yl":0.284,"yh":0.296},
{"m":"Off-axis method","x":9.5,"xl":9,"xh":10,"y":0.27,"yl":0.262,"yh":0.278},
{"m":"Off-axis method","x":10.5,"xl":10,"xh":11,"y":0.285,"yl":0.275,"yh":0.295},
{"m":"Off-axis method","x":11.5,"xl":11,"xh":12,"y":0.306,"yl":0.287,"yh":0.322},
{"m":"Off-axis method","x":12.5,"xl":12,"xh":13,"y":0.282,"yl":0.26,"yh":0.304},
{"m":"Off-axis method","x":13.5,"xl":13,"xh":14,"y":0.269,"yl":0.244,"yh":0.294},
{"m":"Off-axis method","x":14.5,"xl":14,"xh":15,"y":0.273,"yl":0.238,"yh":0.307},
{"m":"Off-axis method","x":15.5,"xl":15,"xh":16,"y":0.346,"yl":0.298,"yh":0.394},
{"m":"Off-axis method","x":16.5,"xl":16,"xh":17,"y":0.289,"yl":0.242,"yh":0.334},
{"m":"Off-axis method","x":17.5,"xl":17,"xh":18,"y":0.225,"yl":0.18,"yh":0.268},
{"m":"Off-axis method","x":18.5,"xl":18,"xh":19,"y":0.294,"yl":0.217,"yh":0.371},
{"m":"Off-axis method","x":19.5,"xl":19,"xh":20,"y":0.273,"yl":0.188,"yh":0.358},
{"m":"Off-axis method","x":20.5,"xl":20,"xh":21,"y":0.26,"yl":0.167,"yh":0.352}
],
"bl": [
{"m":"Region method","x":5.5,"xl":5,"xh":6,"y":0.0747,"yl":0.0717,"yh":0.0777},
{"m":"Region method","x":6.5,"xl":6,"xh":7,"y":0.0584,"yl":0.0554,"yh":0.0614},
{"m":"Region method","x":7.5,"xl":7,"xh":8,"y":0.0524,"yl":0.0494,"yh":0.0554},
{"m":"Region method","x":8.5,"xl":8,"xh":9,"y":0.0477,"yl":0.0437,"yh":0.0517},
{"m":"Region method","x":9.5,"xl":9,"xh":10,"y":0.0413,"yl":0.0353,"yh":0.0473},
{"m":"Region method","x":10.5,"xl":10,"xh":11,"y":0.032,"yl":0.017,"yh":0.048},
{"m":"Region method","x":11.5,"xl":11,"xh":12,"y":0.032,"yl":0.004,"yh":0.061},
{"m":"Off-axis method","x":5.5,"xl":5,"xh":6,"y":0.09,"yl":0.082,"yh":0.098},
{"m":"Off-axis method","x":6.5,"xl":6,"xh":7,"y":0.0515,"yl":0.0376,"yh":0.064},
{"m":"Off-axis method","x":7.5,"xl":7,"xh":8,"y":0.018,"yl":0.0,"yh":0.0376}
],
"bm": [
{"m":"Region method","x":5.5,"xl":5,"xh":6,"y":0.11,"yl":0.107,"yh":0.113},
{"m":"Region method","x":6.5,"xl":6,"xh":7,"y":0.1127,"yl":0.1097,"yh":0.1157},
{"m":"Region method","x":7.5,"xl":7,"xh":8,"y":0.114,"yl":0.111,"yh":0.117},
{"m":"Region method","x":8.5,"xl":8,"xh":9,"y":0.1187,"yl":0.1157,"yh":0.1217},
{"m":"Region method","x":9.5,"xl":9,"xh":10,"y":0.11,"yl":0.107,"yh":0.113},
{"m":"Region method","x":10.5,"xl":10,"xh":11,"y":0.1164,"yl":0.1134,"yh":0.1194},
{"m":"Region method","x":11.5,"xl":11,"xh":12,"y":0.117,"yl":0.114,"yh":0.12},
{"m":"Region method","x":12.5,"xl":12,"xh":13,"y":0.108,"yl":0.104,"yh":0.112},
{"m":"Region method","x":13.5,"xl":13,"xh":14,"y":0.1127,"yl":0.1077,"yh":0.1177},
{"m":"Region method","x":14.5,"xl":14,"xh":15,"y":0.1117,"yl":0.1057,"yh":0.1177},
{"m":"Region method","x":15.5,"xl":15,"xh":16,"y":0.0978,"yl":0.0898,"yh":0.1058},
{"m":"Region method","x":16.5,"xl":16,"xh":17,"y":0.1057,"yl":0.0977,"yh":0.1137},
{"m":"Region method","x":17.5,"xl":17,"xh":18,"y":0.0955,"yl":0.0855,"yh":0.1055},
{"m":"Region method","x":18.5,"xl":18,"xh":19,"y":0.101,"yl":0.091,"yh":0.111},
{"m":"Region method","x":19.5,"xl":19,"xh":20,"y":0.1,"yl":0.088,"yh":0.112},
{"m":"Region method","x":20.5,"xl":20,"xh":21,"y":0.0932,"yl":0.0792,"yh":0.1072},
{"m":"Off-axis method","x":5.5,"xl":5,"xh":6,"y":0.115,"yl":0.112,"yh":0.118},
{"m":"Off-axis method","x":6.5,"xl":6,"xh":7,"y":0.117,"yl":0.114,"yh":0.12},
{"m":"Off-axis method","x":7.5,"xl":7,"xh":8,"y":0.121,"yl":0.117,"yh":0.125},
{"m":"Off-axis method","x":8.5,"xl":8,"xh":9,"y":0.1233,"yl":0.1193,"yh":0.1273},
{"m":"Off-axis method","x":9.5,"xl":9,"xh":10,"y":0.11,"yl":0.105,"yh":0.115},
{"m":"Off-axis method","x":10.5,"xl":10,"xh":11,"y":0.122,"yl":0.116,"yh":0.128},
{"m":"Off-axis method","x":11.5,"xl":11,"xh":12,"y":0.1247,"yl":0.1167,"yh":0.1327},
{"m":"Off-axis method","x":12.5,"xl":12,"xh":13,"y":0.108,"yl":0.1,"yh":0.116},
{"m":"Off-axis method","x":13.5,"xl":13,"xh":14,"y":0.1358,"yl":0.121,"yh":0.15},
{"m":"Off-axis method","x":14.5,"xl":14,"xh":15,"y":0.117,"yl":0.1,"yh":0.135},
{"m":"Off-axis method","x":15.5,"xl":15,"xh":16,"y":0.108,"yl":0.086,"yh":0.129},
{"m":"Off-axis method","x":16.5,"xl":16,"xh":17,"y":0.1474,"yl":0.121,"yh":0.173},
{"m":"Off-axis method","x":17.5,"xl":17,"xh":18,"y":0.1395,"yl":0.0816,"yh":0.178},
{"m":"Off-axis method","x":18.5,"xl":18,"xh":19,"y":0.1154,"yl":0.077,"yh":0.154},
{"m":"Off-axis method","x":19.5,"xl":19,"xh":20,"y":0.1025,"yl":0.065,"yh":0.142},
{"m":"Off-axis method","x":20.5,"xl":20,"xh":21,"y":0.0608,"yl":0.033,"yh":0.0886}
],
"br": [
{"m":"Region method","x":5.5,"xl":5,"xh":6,"y":0.1326,"yl":0.1296,"yh":0.1356},
{"m":"Region method","x":6.5,"xl":6,"xh":7,"y":0.134,"yl":0.131,"yh":0.137},
{"m":"Region method","x":7.5,"xl":7,"xh":8,"y":0.1386,"yl":0.1356,"yh":0.1416},
{"m":"Region method","x":8.5,"xl":8,"xh":9,"y":0.142,"yl":0.139,"yh":0.145},
{"m":"Region method","x":9.5,"xl":9,"xh":10,"y":0.1456,"yl":0.1426,"yh":0.1486},
{"m":"Region method","x":10.5,"xl":10,"xh":11,"y":0.15,"yl":0.146,"yh":0.154},
{"m":"Region method","x":11.5,"xl":11,"xh":12,"y":0.156,"yl":0.152,"yh":0.16},
{"m":"Region method","x":12.5,"xl":12,"xh":13,"y":0.143,"yl":0.138,"yh":0.148},
{"m":"Region method","x":13.5,"xl":13,"xh":14,"y":0.1595,"yl":0.1515,"yh":0.1675},
{"m":"Region method","x":14.5,"xl":14,"xh":15,"y":0.1456,"yl":0.1356,"yh":0.1556},
{"m":"Region method","x":15.5,"xl":15,"xh":16,"y":0.151,"yl":0.141,"yh":0.161},
{"m":"Region method","x":16.5,"xl":16,"xh":17,"y":0.149,"yl":0.133,"yh":0.165},
{"m":"Region method","x":17.5,"xl":17,"xh":18,"y":0.149,"yl":0.135,"yh":0.163},
{"m":"Region method","x":18.5,"xl":18,"xh":19,"y":0.142,"yl":0.127,"yh":0.157},
{"m":"Region method","x":19.5,"xl":19,"xh":20,"y":0.172,"yl":0.164,"yh":0.18},
{"m":"Region method","x":20.5,"xl":20,"xh":21,"y":0.1326,"yl":0.1126,"yh":0.1526},
{"m":"Off-axis method","x":5.5,"xl":5,"xh":6,"y":0.142,"yl":0.138,"yh":0.146},
{"m":"Off-axis method","x":6.5,"xl":6,"xh":7,"y":0.145,"yl":0.141,"yh":0.149},
{"m":"Off-axis method","x":7.5,"xl":7,"xh":8,"y":0.1525,"yl":0.1475,"yh":0.1575},
{"m":"Off-axis method","x":8.5,"xl":8,"xh":9,"y":0.159,"yl":0.153,"yh":0.165},
{"m":"Off-axis method","x":9.5,"xl":9,"xh":10,"y":0.144,"yl":0.137,"yh":0.151},
{"m":"Off-axis method","x":10.5,"xl":10,"xh":11,"y":0.156,"yl":0.148,"yh":0.164},
{"m":"Off-axis method","x":11.5,"xl":11,"xh":12,"y":0.1826,"yl":0.1686,"yh":0.196},
{"m":"Off-axis method","x":12.5,"xl":12,"xh":13,"y":0.1627,"yl":0.1465,"yh":0.178},
{"m":"Off-axis method","x":13.5,"xl":13,"xh":14,"y":0.1465,"yl":0.13,"yh":0.1627},
{"m":"Off-axis method","x":14.5,"xl":14,"xh":15,"y":0.16,"yl":0.135,"yh":0.186},
{"m":"Off-axis method","x":15.5,"xl":15,"xh":16,"y":0.194,"yl":0.158,"yh":0.23},
{"m":"Off-axis method","x":16.5,"xl":16,"xh":17,"y":0.1665,"yl":0.135,"yh":0.2007},
{"m":"Off-axis method","x":17.5,"xl":17,"xh":18,"y":0.11,"yl":0.085,"yh":0.135},
{"m":"Off-axis method","x":18.5,"xl":18,"xh":19,"y":0.1544,"yl":0.103,"yh":0.2045},
{"m":"Off-axis method","x":19.5,"xl":19,"xh":20,"y":0.193,"yl":0.1164,"yh":0.271},
{"m":"Off-axis method","x":20.5,"xl":20,"xh":21,"y":0.0978,"yl":0.0608,"yh":0.135}
]
}
}
